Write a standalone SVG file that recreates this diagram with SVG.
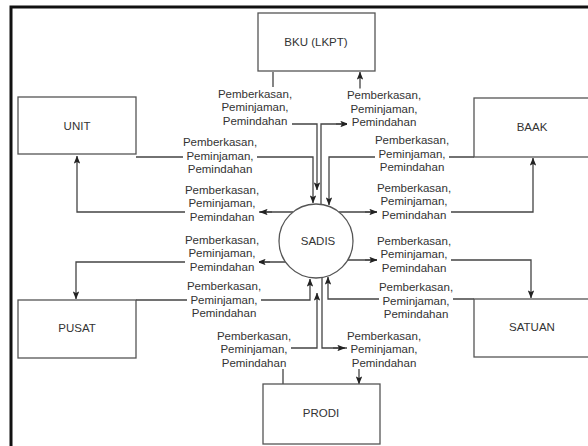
<svg xmlns="http://www.w3.org/2000/svg" width="588" height="446" viewBox="0 0 588 446">
  <style>
    .box { fill: #ffffff; stroke: #555555; stroke-width: 1.3; }
    .proc { fill: #ffffff; stroke: #555555; stroke-width: 1.3; }
    .name { font-family: "Liberation Sans", Arial, sans-serif; font-size: 11.5px; fill: #333333; text-anchor: middle; }
    .edge { fill: none; stroke: #444444; stroke-width: 1.3; marker-end: url(#arrow); }
    .flowbg { fill: #ffffff; stroke: none; }
    .flowtxt { font-family: "Liberation Sans", Arial, sans-serif; font-size: 11.5px; fill: #333333; text-anchor: middle; }
  </style>
  <defs>
    <marker id="arrow" viewBox="0 0 10 8" refX="9.5" refY="4" markerWidth="8" markerHeight="6.4" markerUnits="userSpaceOnUse" orient="auto">
      <path d="M0,0 L10,4 L0,8 L2,4 z" fill="#222222"/>
    </marker>
    <!-- three-line flow label, centred on (0,0) -->
    <g id="flow">
      <rect class="flowbg" x="-37" y="-20" width="74" height="40"/>
      <text class="flowtxt" x="0" y="-9.5">Pemberkasan,</text>
      <text class="flowtxt" x="0" y="4">Peminjaman,</text>
      <text class="flowtxt" x="0" y="17.5">Pemindahan</text>
    </g>
  </defs>

  <!-- page frame -->
  <rect x="11" y="7" width="640" height="480" fill="none" stroke="#111111" stroke-width="3"/>

  <!-- connectors -->
  <g id="connectors">
    <!-- BKU -> SADIS -->
    <polyline class="edge" points="273,72 273,124 317,124 317,190"/>
    <!-- SADIS -> BKU -->
    <polyline class="edge" points="321,204 321,124 360,124 360,72"/>
    <line class="edge" x1="336" y1="124" x2="348" y2="124"/>
    <!-- UNIT -> SADIS -->
    <polyline class="edge" points="136,157 313,157 313,203"/>
    <!-- BAAK -> SADIS -->
    <polyline class="edge" points="474,157 329,157 329,205"/>
    <!-- SADIS -> UNIT -->
    <polyline class="edge" points="293,212 77,212 77,156"/>
    <line class="edge" x1="272" y1="212" x2="260" y2="212"/>
    <!-- SADIS -> BAAK -->
    <polyline class="edge" points="339,212 533,212 533,158"/>
    <line class="edge" x1="365" y1="212" x2="377" y2="212"/>
    <!-- SADIS -> PUSAT -->
    <polyline class="edge" points="286,262 76,262 76,299"/>
    <line class="edge" x1="270" y1="262" x2="258" y2="262"/>
    <!-- SADIS -> SATUAN -->
    <polyline class="edge" points="348,260 531,260 531,298"/>
    <line class="edge" x1="365" y1="260" x2="377" y2="260"/>
    <!-- PUSAT -> SADIS -->
    <polyline class="edge" points="136,300 310,300 310,279"/>
    <!-- SATUAN -> SADIS -->
    <polyline class="edge" points="474,299 328,299 328,277"/>
    <!-- PRODI -> SADIS -->
    <polyline class="edge" points="283,384 283,348 317,348 317,293"/>
    <!-- SADIS -> PRODI -->
    <polyline class="edge" points="322,278 322,348 359,348 359,384"/>
    <line class="edge" x1="333" y1="348" x2="345" y2="348"/>

    <!-- flow labels -->
    <g class="labels">
      <use href="#flow" x="255" y="107"/>
      <use href="#flow" x="384" y="108.5"/>
      <use href="#flow" x="220" y="155.5"/>
      <use href="#flow" x="412" y="153.5"/>
      <use href="#flow" x="222" y="203"/>
      <use href="#flow" x="414" y="201"/>
      <use href="#flow" x="222" y="253"/>
      <use href="#flow" x="414" y="254"/>
      <use href="#flow" x="224" y="299.5"/>
      <use href="#flow" x="416" y="300.5"/>
      <use href="#flow" x="254" y="349"/>
      <use href="#flow" x="384" y="349"/>
    </g>
  </g>

  <!-- external entities and process -->
  <g id="bku">
    <rect class="box" x="258" y="13" width="117" height="58"/>
    <text class="name" x="316" y="46">BKU (LKPT)</text>
  </g>
  <g id="unit">
    <rect class="box" x="18" y="97" width="118" height="57"/>
    <text class="name" x="77" y="130">UNIT</text>
  </g>
  <g id="baak">
    <rect class="box" x="474" y="98" width="118" height="59"/>
    <text class="name" x="532" y="131">BAAK</text>
  </g>
  <g id="pusat">
    <rect class="box" x="18" y="300" width="118" height="58"/>
    <text class="name" x="77" y="332">PUSAT</text>
  </g>
  <g id="satuan">
    <rect class="box" x="474" y="299" width="118" height="58"/>
    <text class="name" x="532" y="331">SATUAN</text>
  </g>
  <g id="prodi">
    <rect class="box" x="263" y="384" width="117" height="60"/>
    <text class="name" x="321" y="417">PRODI</text>
  </g>
  <g id="sadis">
    <circle class="proc" cx="316" cy="241" r="37"/>
    <text class="name" x="318" y="245">SADIS</text>
  </g>
</svg>
